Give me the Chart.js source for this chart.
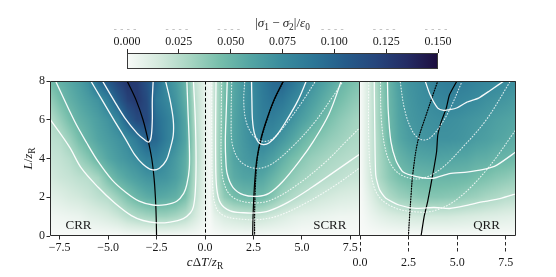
<!DOCTYPE html>
<html>
<head>
<meta charset="utf-8">
<script src="https://cdn.jsdelivr.net/npm/chart.js@4.4.1/dist/chart.umd.min.js"></script>
<style>
  html, body { margin: 0; padding: 0; background: #fff; }
  #wrap { position: relative; width: 556px; height: 277px; }
  canvas { position: absolute; left: 0; top: 0; }
</style>
</head>
<body>
<div id="wrap">
  <canvas id="cbar" width="556" height="75"></canvas>
  <canvas id="left" width="556" height="277"></canvas>
  <canvas id="right" width="556" height="277"></canvas>
</div>
<script>
// ---- tick labels ----
const cbarTicks = [0, 0.025, 0.05, 0.075, 0.1, 0.125, 0.15];
const leftTicks = [-7.5, -5, -2.5, 0, 2.5, 5, 7.5];
const rightTicks = [0, 2.5, 5, 7.5];
const yTicks = [0, 2, 4, 6, 8];

// ---- heat map grids (values in 1e-3 units), rows are L/zR = 0..8 ----
const gridYs = [0, 1, 2, 3, 4, 5, 6, 7, 8];
const leftXs = [-8, -7.5, -7, -6.5, -6, -5.5, -5, -4.5, -4, -3.5, -3, -2.5, -2, -1.5, -1, -0.5, 0, 0.25,
  0.5, 1, 1.5, 2, 2.5, 3, 3.5, 4, 4.5, 5, 5.5, 6, 6.5, 7, 7.5, 8];
const leftHeat = [
  [0, 0, 0, 0, 0, 0, 0, 0, 1, 1, 1, 1, 1, 1, 1, 1, 0, 0, 0, 1, 1, 1, 1, 1, 1, 1, 1, 0, 0, 0, 0, 0, 0, 0],
  [3, 4, 5, 6, 9, 11, 14, 18, 24, 28, 31, 33, 33, 30, 25, 15, 5, 1, 8, 14, 17, 19, 20, 19, 16, 13, 10, 8, 7, 6, 5, 4, 4, 3],
  [9, 11, 14, 16, 19, 23, 26, 34, 43, 50, 55, 58, 56, 53, 44, 23, 7, 2, 19, 37, 45, 48, 49, 47, 40, 32, 27, 23, 20, 17, 15, 13, 12, 11],
  [15, 18, 20, 23, 25, 31, 44, 53, 59, 64, 69, 71, 69, 63, 53, 25, 8, 2, 21, 46, 56, 60, 61, 58, 51, 43, 37, 32, 29, 26, 24, 22, 20, 19],
  [19, 21, 25, 33, 41, 51, 59, 65, 70, 75, 83, 84, 75, 66, 55, 28, 8, 2, 22, 48, 60, 66, 70, 69, 63, 54, 46, 40, 35, 32, 29, 27, 25, 24],
  [23, 25, 34, 45, 53, 60, 65, 70, 76, 88, 103, 98, 85, 74, 60, 28, 8, 2, 22, 47, 60, 68, 75, 79, 75, 68, 60, 51, 44, 40, 36, 33, 30, 28],
  [25, 35, 45, 53, 58, 64, 70, 79, 104, 118, 119, 95, 85, 74, 59, 25, 8, 2, 22, 46, 60, 69, 76, 84, 84, 78, 71, 63, 56, 49, 43, 38, 34, 30],
  [35, 45, 53, 59, 65, 71, 84, 104, 122, 128, 117, 88, 79, 69, 54, 24, 8, 2, 22, 45, 59, 68, 76, 86, 92, 89, 80, 72, 64, 57, 50, 45, 40, 36],
  [46, 53, 58, 64, 73, 97, 108, 122, 130, 126, 112, 96, 75, 65, 51, 21, 8, 2, 22, 44, 58, 68, 77, 88, 97, 100, 92, 82, 72, 64, 58, 51, 46, 42]
];
const rightXs = [0, 0.5, 1, 1.5, 2, 2.5, 3, 3.5, 4, 4.5, 5, 5.5, 6, 6.5, 7, 7.5, 8];
const rightHeat = [
  [0, 0, 0, 0, 0, 0, 0, 0, 0, 0, 0, 0, 0, 0, 0, 0, 0],
  [0, 5, 9, 12, 14, 15, 16, 16, 16, 16, 15, 14, 13, 12, 11, 10, 9],
  [0, 10, 20, 28, 33, 36, 39, 40, 40, 39, 38, 35, 33, 30, 28, 25, 24],
  [0, 15, 29, 38, 44, 48, 49, 50, 50, 50, 49, 48, 45, 43, 40, 38, 35],
  [0, 16, 30, 41, 51, 56, 59, 60, 61, 60, 59, 58, 55, 54, 51, 50, 48],
  [0, 16, 31, 48, 58, 64, 68, 70, 71, 71, 70, 68, 65, 63, 60, 58, 55],
  [0, 16, 33, 49, 60, 67, 70, 72, 73, 73, 72, 70, 68, 66, 63, 61, 59],
  [0, 16, 33, 50, 61, 68, 72, 74, 78, 80, 79, 77, 75, 72, 70, 68, 65],
  [0, 16, 35, 51, 63, 70, 73, 77, 83, 85, 85, 84, 81, 79, 77, 75, 73]
];

// ---- contour lines [x, L/zR]: levels 0.025, 0.05, 0.075, 0.1 ----
const crrLevel1 = [[-8.05, 6.1], [-7, 4.6], [-6.38, 3.5], [-5.5, 2.5], [-4.66, 1.7], [-3.8, 1.05], [-3.2, 0.8], [-2.5, 0.68], [-1.8, 0.72], [-1.12, 0.9], [-0.75, 1.2], [-0.6, 1.5], [-0.5, 2.3], [-0.46, 3.85], [-0.5, 6], [-0.6, 8.1]];
const crrLevel2 = [[-7.76, 8.1], [-6.73, 5.92], [-6.1, 4.8], [-5.52, 3.85], [-4.8, 2.9], [-4.14, 2.3], [-3.4, 1.8], [-2.68, 1.6], [-2.0, 1.62], [-1.46, 1.79], [-1.1, 2.2], [-0.94, 2.65], [-0.81, 3.5], [-0.81, 4.7], [-0.88, 6.5], [-0.94, 8.1]];
const crrLevel3 = [[-5.95, 8.1], [-5.3, 7], [-4.66, 5.92], [-4.1, 5.0], [-3.63, 4.2], [-3.2, 3.7], [-2.75, 3.42], [-2.35, 3.5], [-2.0, 3.9], [-1.8, 4.5], [-1.64, 5.2], [-1.64, 6.0], [-1.8, 7.0], [-2.06, 8.1]];
const crrLevel4 = [[-5.35, 8.1], [-4.7, 7], [-4.14, 6.1], [-3.5, 5.3], [-3.1, 4.95], [-2.9, 4.85], [-2.78, 5.1], [-2.72, 6], [-2.72, 7], [-2.67, 8.1]];

const scrrLevel1 = [[0.57, 8.1], [0.55, 6], [0.55, 4], [0.6, 2.5], [0.8, 1.7], [1.3, 1.3], [2.0, 1.2], [2.6, 1.19], [3.3, 1.3], [4.3, 1.75], [5.5, 2.5], [6.8, 3.4], [8.1, 4.3]];
const scrrLevel2 = [[1.15, 8.1], [1.1, 6.5], [1.05, 5], [1.07, 4], [1.15, 3.2], [1.45, 2.5], [2.0, 2.12], [2.7, 2.05], [3.3, 2.2], [4.0, 2.8], [4.9, 3.9], [5.6, 4.9], [6.4, 6.3], [7.07, 8.1]];
const scrrLevel3 = [[2.4, 8.1], [2.42, 7], [2.45, 6], [2.55, 5.3], [2.75, 4.85], [3.0, 4.72], [3.3, 4.8], [3.7, 5.2], [4.2, 5.95], [4.8, 7.0], [5.27, 8.1]];
const scrrModel1 = [[0.35, 8.1], [0.35, 5], [0.4, 2.5], [0.6, 1.4], [1.1, 1.0], [2.0, 0.86], [2.8, 0.85], [3.8, 1.05], [5.2, 1.7], [6.7, 2.6], [8.1, 3.6]];
const scrrModel2 = [[0.86, 8.1], [0.84, 6], [0.86, 3.5], [1.1, 2.4], [1.6, 1.9], [2.5, 1.71], [3.4, 1.85], [4.7, 2.6], [6.2, 3.8], [7.3, 4.9], [8.1, 5.7]];
const scrrModel3 = [[1.38, 8.1], [1.35, 6], [1.4, 4.8], [1.7, 4.0], [2.2, 3.6], [2.84, 3.5], [3.5, 3.75], [4.5, 4.6], [5.6, 5.8], [6.6, 7.2], [7.2, 8.1]];
const scrrModel4 = [[2.06, 8.1], [2.0, 7], [2.1, 6], [2.4, 5.3], [2.8, 4.95], [3.18, 4.89], [3.6, 5.1], [4.2, 5.8], [5.0, 6.9], [5.77, 8.1]];

const qrrLevel1 = [[0.73, 8.1], [0.76, 5.5], [0.81, 3.15], [1.0, 2.4], [1.33, 1.95], [2.0, 1.6], [2.88, 1.43], [3.8, 1.47], [4.61, 1.42], [5.5, 1.58], [6.34, 1.77], [7.2, 1.93], [8.1, 2.2]];
const qrrLevel2 = [[1.41, 8.1], [1.45, 6.5], [1.59, 4.87], [1.85, 3.9], [2.2, 3.32], [2.9, 3.07], [3.76, 2.98], [4.6, 3.22], [5.49, 3.3], [6.3, 3.42], [7.04, 3.66], [8.1, 4.4]];
const qrrLevel3 = [[3.32, 8.1], [3.6, 7.3], [4.0, 6.6], [4.3, 6.48], [4.62, 6.52], [5.0, 6.62], [5.48, 6.9], [6.1, 7.12], [6.68, 7.5], [7.55, 8.1]];
const qrrModel1 = [[0.45, 8.1], [0.45, 5], [0.6, 3], [1.0, 2.0], [1.8, 1.45], [2.8, 1.25], [3.8, 1.3], [5.0, 1.9], [6.5, 3.4], [8.1, 5.6]];
const qrrModel2 = [[1.05, 8.1], [1.1, 6], [1.35, 4.3], [1.8, 3.4], [2.5, 3.0], [3.3, 3.0], [4.2, 3.5], [5.3, 4.6], [6.5, 6.0], [7.8, 8.1]];
const qrrModel3 = [[2.05, 8.1], [2.3, 6.5], [2.7, 5.4], [3.1, 5.0], [3.5, 5.0], [4.0, 5.5], [4.6, 6.5], [5.3, 8.1]];

// ---- ridge (maximum) lines ----
const crrPeak = [[-2.5, 0], [-2.52, 1], [-2.56, 2], [-2.63, 3], [-2.75, 4], [-2.95, 5], [-3.2, 6], [-3.55, 7], [-4.02, 8]];
const scrrPeak = [[2.46, 0], [2.48, 1], [2.52, 2], [2.58, 3], [2.68, 4], [2.88, 5], [3.18, 6], [3.55, 7], [4.04, 8]];
const scrrPeakModel = [[2.56, 0], [2.56, 1], [2.58, 2], [2.62, 3], [2.7, 4], [2.9, 5], [3.2, 6], [3.57, 7], [4.06, 8]];
const qrrPeak = [[3.14, 0], [3.3, 1], [3.48, 1.77], [3.74, 3.15], [3.94, 4.35], [4.0, 5.2], [4.18, 5.9], [4.44, 6.6], [4.6, 7.28], [4.99, 8]];
const qrrPeakModel = [[2.49, 0], [2.55, 1], [2.62, 2], [2.71, 3.15], [2.97, 4.87], [3.4, 6.24], [4.0, 8]];

// ---- styling helpers ----
const FONT = '"Liberation Serif", "DejaVu Serif", serif';
const INK = '#1a1a1a';
const cmapStops = [
  [248, 250, 248], [213, 234, 222], [168, 214, 195], [118, 190, 171], [82, 164, 163],
  [57, 139, 157], [44, 118, 150], [37, 92, 138], [38, 70, 124], [36, 44, 100], [29, 14, 62]
];
const VMAX = 0.15;

function colorAt(v) {
  const t = Math.max(0, Math.min(1, v / VMAX)) * (cmapStops.length - 1);
  const i = Math.min(Math.floor(t), cmapStops.length - 2);
  const f = t - i;
  const a = cmapStops[i], b = cmapStops[i + 1];
  return [a[0] + (b[0] - a[0]) * f, a[1] + (b[1] - a[1]) * f, a[2] + (b[2] - a[2]) * f];
}

function sample(xs, grid, xv, yv) {
  let i = 0;
  while (i < xs.length - 2 && xv > xs[i + 1]) i += 1;
  let j = 0;
  while (j < gridYs.length - 2 && yv > gridYs[j + 1]) j += 1;
  const fx = Math.max(0, Math.min(1, (xv - xs[i]) / (xs[i + 1] - xs[i])));
  const fy = Math.max(0, Math.min(1, (yv - gridYs[j]) / (gridYs[j + 1] - gridYs[j])));
  const a = grid[j][i], b = grid[j][i + 1], c = grid[j + 1][i], d = grid[j + 1][i + 1];
  return (a * (1 - fx) + b * fx) * (1 - fy) + (c * (1 - fx) + d * fx) * fy;
}

function heatPlugin(xs, grid) {
  return {
    id: 'heat',
    beforeDatasetsDraw(chart) {
      const { ctx, chartArea: a, scales: { x, y } } = chart;
      const x0 = Math.round(a.left), y0 = Math.round(a.top);
      const w = Math.round(a.right) - x0, h = Math.round(a.bottom) - y0;
      const img = ctx.createImageData(w, h);
      for (let j = 0; j < h; j += 1) {
        const yv = y.getValueForPixel(y0 + j + 0.5);
        for (let i = 0; i < w; i += 1) {
          const xv = x.getValueForPixel(x0 + i + 0.5);
          const c = colorAt(sample(xs, grid, xv, yv) / 1000);
          const k = (j * w + i) * 4;
          img.data[k] = c[0]; img.data[k + 1] = c[1]; img.data[k + 2] = c[2]; img.data[k + 3] = 255;
        }
      }
      ctx.putImageData(img, x0, y0);
    }
  };
}

function drawRich(ctx, parts, x, y, size) {
  const fonts = parts.map((p) => `${p.it ? 'italic ' : ''}${p.sub ? size * 0.72 : size}px ${FONT}`);
  let w = 0;
  parts.forEach((p, i) => { ctx.font = fonts[i]; p.w = ctx.measureText(p.t).width; w += p.w; });
  let cx = x - w / 2;
  ctx.textAlign = 'left';
  ctx.textBaseline = 'alphabetic';
  parts.forEach((p, i) => {
    ctx.font = fonts[i];
    ctx.fillText(p.t, cx, y + (p.sub ? size * 0.22 : 0));
    cx += p.w;
  });
  return w;
}

function framePlugin(extra, skipLeft) {
  return {
    id: 'frame',
    afterDatasetsDraw(chart) {
      const { ctx, chartArea: a } = chart;
      ctx.save();
      if (extra) extra(chart, ctx);
      const l = Math.round(a.left) + 0.5, r = Math.round(a.right) - 0.5;
      const t = Math.round(a.top) + 0.5, b = Math.round(a.bottom) - 0.5;
      ctx.strokeStyle = '#2a2a2a';
      ctx.lineWidth = 1;
      ctx.beginPath();
      ctx.moveTo(skipLeft ? l - 1 : l, t); ctx.lineTo(r, t); ctx.lineTo(r, b); ctx.lineTo(skipLeft ? l - 1 : l, b);
      if (!skipLeft) ctx.closePath();
      ctx.stroke();
      ctx.restore();
    }
  };
}

function curve(pts, color, width, dash, tension) {
  return {
    data: pts.map((p) => ({ x: p[0], y: p[1] })),
    showLine: true,
    borderColor: color,
    borderWidth: width,
    borderDash: dash,
    borderCapStyle: dash.length ? 'round' : 'butt',
    pointRadius: 0,
    pointHoverRadius: 0,
    tension: tension === undefined ? 0.35 : tension,
    fill: false
  };
}
const WHITE = 'rgba(255,255,255,0.95)';
const WDOT = 'rgba(255,255,255,0.8)';
const solid = (p, t) => curve(p, WHITE, 1.3, [], t);
const dotted = (p) => curve(p, WDOT, 1.1, [0.8, 2.2]);

const fmt = (v) => (v < 0 ? '\u2212' + Math.abs(v).toFixed(1) : v.toFixed(1));

function xAxis(min, max, ticks, tickLen, pad, dashed) {
  return {
    type: 'linear', min, max, position: 'bottom',
    afterBuildTicks: (s) => { s.ticks = ticks.map((v) => ({ value: v })); },
    afterFit: (s) => { s.height = 41; },
    ticks: { callback: (v) => fmt(v), font: { family: FONT, size: 12 }, color: INK, padding: pad, maxRotation: 0, autoSkip: false },
    grid: { drawOnChartArea: false, tickLength: tickLen, tickColor: '#2a2a2a', tickBorderDash: dashed ? [3.5, 2.5] : [] },
    border: { display: false }
  };
}

// ---- colour bar ----
new Chart(document.getElementById('cbar'), {
  type: 'scatter',
  data: { datasets: [] },
  options: {
    responsive: false, animation: false, events: [],
    layout: { padding: { left: 127, right: 118, top: 0, bottom: 6 } },
    plugins: { legend: { display: false }, tooltip: { enabled: false } },
    scales: {
      x: {
        type: 'linear', min: 0, max: VMAX, position: 'top',
        afterBuildTicks: (s) => { s.ticks = cbarTicks.map((v) => ({ value: v })); },
        afterFit: (s) => { s.height = 53; },
        ticks: { callback: (v) => v.toFixed(3), font: { family: FONT, size: 12 }, color: INK, padding: 0, maxRotation: 0, autoSkip: false },
        grid: { drawOnChartArea: false, tickLength: 4, tickColor: '#2a2a2a' },
        border: { display: false }
      },
      y: { display: false, min: 0, max: 1 }
    }
  },
  plugins: [{
    id: 'cbar',
    beforeDatasetsDraw(chart) {
      const { ctx, chartArea: a, scales: { x } } = chart;
      const g = ctx.createLinearGradient(a.left, 0, a.right, 0);
      cmapStops.forEach((c, i) => g.addColorStop(i / (cmapStops.length - 1), `rgb(${c[0]},${c[1]},${c[2]})`));
      ctx.save();
      ctx.fillStyle = g;
      ctx.fillRect(a.left, a.top, a.right - a.left, a.bottom - a.top);
      ctx.strokeStyle = '#3a3a3a';
      ctx.lineWidth = 1;
      ctx.strokeRect(Math.round(a.left) + 0.5, Math.round(a.top) + 0.5, Math.round(a.right - a.left) - 1, Math.round(a.bottom - a.top) - 1);
      // faint ghost marks above the tick labels
      ctx.strokeStyle = '#c4c4c4';
      ctx.setLineDash([2.5, 4]);
      cbarTicks.forEach((v) => {
        const px = x.getPixelForValue(v);
        ctx.beginPath(); ctx.moveTo(px - 13, 29.5); ctx.lineTo(px + 13, 29.5); ctx.stroke();
      });
      ctx.setLineDash([]);
      ctx.fillStyle = '#fff';
      ctx.fillRect(252, 14, 66, 18);
      ctx.fillStyle = INK;
      drawRich(ctx, [{ t: '|' }, { t: '\u03c3', it: true }, { t: '1', sub: true }, { t: ' \u2212 ' },
        { t: '\u03c3', it: true }, { t: '2', sub: true }, { t: '|/' }, { t: '\u03b5', it: true }, { t: '0', sub: true }],
        x.getPixelForValue(0.075), 27, 13);
      ctx.restore();
    }
  }]
});

// ---- left panel: CRR and SCRR ----
new Chart(document.getElementById('left'), {
  type: 'scatter',
  data: {
    datasets: [
      solid(crrLevel1), solid(crrLevel2), solid(crrLevel3), solid(crrLevel4),
      dotted(scrrModel1), dotted(scrrModel2), dotted(scrrModel3), dotted(scrrModel4),
      solid(scrrLevel1), solid(scrrLevel2), solid(scrrLevel3),
      curve(crrPeak, '#000', 1.2, []),
      curve(scrrPeakModel, '#000', 1.2, [1, 1.6]),
      curve(scrrPeak, '#000', 1.2, [])
    ]
  },
  options: {
    responsive: false, animation: false, events: [],
    layout: { padding: { left: 0, right: 196, top: 81, bottom: 0 } },
    plugins: { legend: { display: false }, tooltip: { enabled: false } },
    scales: {
      x: xAxis(-8, 8, leftTicks, 3.5, 1, false),
      y: {
        type: 'linear', min: 0, max: 8,
        afterBuildTicks: (s) => { s.ticks = yTicks.map((v) => ({ value: v })); },
        afterFit: (s) => { s.width = 50; },
        ticks: { font: { family: FONT, size: 12 }, color: INK, padding: 1.5 },
        grid: { drawOnChartArea: false, tickLength: 3.5, tickColor: '#2a2a2a' },
        border: { display: false }
      }
    }
  },
  plugins: [heatPlugin(leftXs, leftHeat), framePlugin((chart, ctx) => {
    const { chartArea: a, scales: { x, y } } = chart;
    const px = Math.round(x.getPixelForValue(0)) + 0.5;
    ctx.strokeStyle = '#000';
    ctx.lineWidth = 1;
    ctx.setLineDash([3.5, 2.2]);
    ctx.beginPath(); ctx.moveTo(px, a.top); ctx.lineTo(px, a.bottom); ctx.stroke();
    ctx.setLineDash([]);
    ctx.fillStyle = INK;
    ctx.font = `13px ${FONT}`;
    ctx.textAlign = 'left';
    ctx.textBaseline = 'alphabetic';
    ctx.fillText('CRR', x.getPixelForValue(-7.2), y.getPixelForValue(0.36));
    ctx.textAlign = 'right';
    ctx.fillText('SCRR', x.getPixelForValue(7.3), y.getPixelForValue(0.36));
    // axis titles
    ctx.textAlign = 'left';
    drawRich(ctx, [{ t: 'c', it: true }, { t: '\u0394' }, { t: 'T', it: true }, { t: '/' }, { t: 'z', it: true }, { t: 'R', sub: true }],
      x.getPixelForValue(0), 266, 13);
    ctx.save();
    ctx.translate(32, (a.top + a.bottom) / 2);
    ctx.rotate(-Math.PI / 2);
    drawRich(ctx, [{ t: 'L', it: true }, { t: '/' }, { t: 'z', it: true }, { t: 'R', sub: true }], 0, 0, 13);
    ctx.restore();
  })]
});

// ---- right panel: QRR ----
new Chart(document.getElementById('right'), {
  type: 'scatter',
  data: {
    datasets: [
      dotted(qrrModel1), dotted(qrrModel2), dotted(qrrModel3),
      solid(qrrLevel1, 0.2), solid(qrrLevel2, 0.2), solid(qrrLevel3, 0.2),
      curve(qrrPeakModel, '#000', 1.2, [1, 1.6]),
      curve(qrrPeak, '#000', 1.2, [], 0.15)
    ]
  },
  options: {
    responsive: false, animation: false, events: [],
    layout: { padding: { left: 360, right: 40.5, top: 81, bottom: 0 } },
    plugins: { legend: { display: false }, tooltip: { enabled: false } },
    scales: {
      x: xAxis(0, 8, rightTicks, 18, 1.8, true),
      y: { display: false, min: 0, max: 8 }
    }
  },
  plugins: [heatPlugin(rightXs, rightHeat), framePlugin((chart, ctx) => {
    const { scales: { x, y } } = chart;
    ctx.fillStyle = INK;
    ctx.font = `13px ${FONT}`;
    ctx.textAlign = 'right';
    ctx.textBaseline = 'alphabetic';
    ctx.fillText('QRR', x.getPixelForValue(7.2), y.getPixelForValue(0.36));
  }, true)]
});
</script>
</body>
</html>
